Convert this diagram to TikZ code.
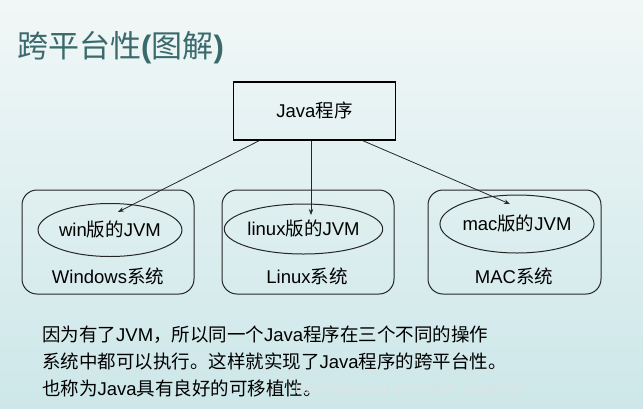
\documentclass[tikz,border=0pt]{standalone}
\usepackage{fontspec}
\setmainfont{Liberation Sans}
\newfontfamily\cjk{Noto Sans CJK SC}
\usetikzlibrary{arrows.meta,shapes.geometric}
\newcommand\zh[1]{{\cjk #1}}
\definecolor{bgtop}{RGB}{241,247,247}
\definecolor{bgbot}{RGB}{205,231,233}
\definecolor{titlec}{RGB}{58,106,108}
\definecolor{wmc}{RGB}{222,228,229}
\begin{document}
\begin{tikzpicture}[x=1pt,y=-1pt,
  mainfont/.style={font=\fontsize{18.5}{22}\selectfont},
  lbl/.style={mainfont, inner sep=0pt, text height=13pt, text depth=0pt},
  progbox/.style={draw=black, line width=1.1pt, minimum width=162pt, minimum height=58pt, lbl},
  sysbox/.style={draw=black!85, line width=1pt, rounded corners=15pt, minimum height=104pt, inner sep=0pt},
  jvm/.style={draw=black!85, ellipse, line width=1pt, lbl},
  arr/.style={-{Stealth[length=6pt,width=4.5pt]}, line width=0.8pt, draw=black!85},
  body/.style={font=\fontsize{18.5}{22}\selectfont, inner sep=0pt, anchor=base west}
]
\shade[top color=bgtop, bottom color=bgbot] (0,0) rectangle (643,408);
\useasboundingbox (0,0) rectangle (643,408);

% title
\node[anchor=base west, inner sep=0pt, text=titlec, font=\fontsize{31}{35}\selectfont] (title) at (17,57.5)
  {\zh{跨平台性}\textbf{(}\zh{图解}\textbf{)}};

% program box
\node[progbox] (java) at (314.5,111) {Java\zh{程序}};

% system boxes
\node[sysbox, minimum width=172pt] (winsys) at (108,242) {};
\node[sysbox, minimum width=172pt] (linsys) at (308,242) {};
\node[sysbox, minimum width=173pt] (macsys) at (514.5,242) {};

% JVM ellipses
\node[jvm, minimum width=124pt, minimum height=53pt] (winjvm) at (110,230) {win\zh{版的}JVM};
\node[jvm, minimum width=127pt, minimum height=50pt] (linjvm) at (303.5,229) {linux\zh{版的}JVM};
\node[jvm, minimum width=124pt, minimum height=58pt] (macjvm) at (517,224) {mac\zh{版的}JVM};

% system labels
\node[lbl] (winlbl) at (108,276.5) {Windows\zh{系统}};
\node[lbl] (linlbl) at (307,276.5) {Linux\zh{系统}};
\node[lbl] (maclbl) at (514,276.5) {MAC\zh{系统}};

% arrows
\coordinate (wintip) at (118,212);
\coordinate (lintip) at (311,215);
\coordinate (mactip) at (510,204);
\draw[arr] ([xshift=26.5pt]java.south west) -- (wintip);
\draw[arr] ([xshift=-3.5pt]java.south) -- (lintip);
\draw[arr] ([xshift=-33.5pt]java.south east) -- (mactip);

% explanation text
\node[body] (line1) at (42,341) {\zh{因为有了}JVM\zh{，所以同一个}Java\zh{程序在三个不同的操作}};
\node[body] (line2) at (42,368) {\zh{系统中都可以执行。这样就实现了}Java\zh{程序的跨平台性。}};
\node[body] (line3) at (42,395) {\zh{也称为}Java\zh{具有良好的可移植性。}};

% watermark
\node[anchor=base west, inner sep=0pt, text=wmc, opacity=0.85, font=\fontsize{13.5}{15}\selectfont] (wm) at (295,393)
  {https://blog.csdn.net/weixin\_41847891};
\end{tikzpicture}
\end{document}
